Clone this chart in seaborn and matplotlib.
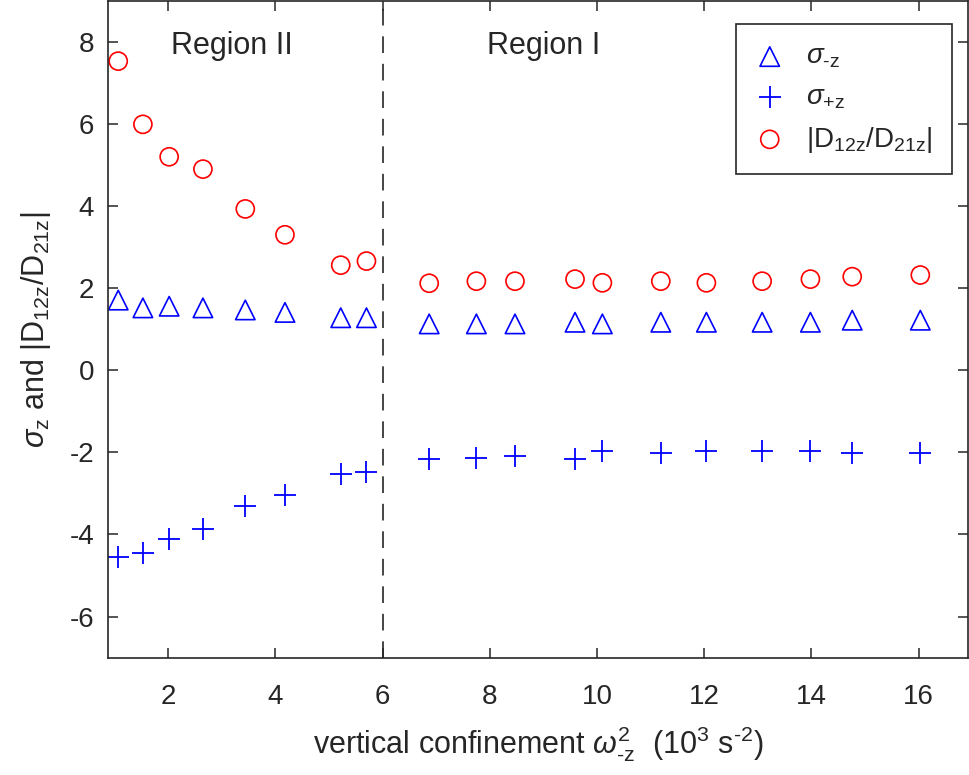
import numpy as np
import pandas as pd
import matplotlib
matplotlib.use("Agg")
import matplotlib.pyplot as plt
import seaborn as sb

sb.set_theme(style='ticks')
plt.rcParams['font.family'] = ['Liberation Sans', 'DejaVu Sans']
plt.rcParams['mathtext.fontset'] = 'custom'
plt.rcParams['mathtext.rm'] = 'Liberation Sans'
plt.rcParams['mathtext.it'] = 'Liberation Sans:italic'
plt.rcParams['axes.unicode_minus'] = False
plt.rcParams['text.color'] = '#262626'
plt.rcParams['axes.labelcolor'] = '#262626'
plt.rcParams['xtick.color'] = '#262626'
plt.rcParams['ytick.color'] = '#262626'

# vertical confinement omega^2 (10^3 s^-2)
omega2 = [1.07, 1.53, 2.02, 2.65, 3.44, 4.18, 5.22, 5.70,
          6.87, 7.75, 8.47, 9.59, 10.10, 11.19, 12.04, 13.08, 13.98, 14.76, 16.03]
sigma_minus = [1.71, 1.52, 1.56, 1.52, 1.47, 1.41, 1.28, 1.28,
               1.13, 1.13, 1.13, 1.17, 1.13, 1.17, 1.17, 1.17, 1.17, 1.22, 1.22]
sigma_plus = [-4.56, -4.44, -4.11, -3.87, -3.30, -3.05, -2.53, -2.47,
              -2.17, -2.13, -2.08, -2.15, -1.97, -2.02, -1.97, -1.97, -1.96, -2.01, -2.01]
d_ratio = [7.53, 5.99, 5.20, 4.90, 3.93, 3.30, 2.56, 2.66,
           2.12, 2.17, 2.17, 2.22, 2.13, 2.17, 2.13, 2.17, 2.22, 2.28, 2.32]

df = pd.DataFrame({'w2': omega2, 'sm': sigma_minus, 'sp': sigma_plus, 'd': d_ratio})

fig = plt.figure(figsize=(9.69, 7.75), dpi=100)
ax = fig.add_axes([0.1115, 0.1514, 0.8875, 0.8476])

sb.scatterplot(data=df, x='w2', y='sm', marker='^', s=14**2, facecolors='none',
               edgecolor='#0000ff', linewidth=1.2, label=r'$\sigma_{\text{-z}}$', ax=ax)
sb.scatterplot(data=df, x='w2', y='sp', marker='+', s=16**2, color='#0000ff',
               linewidth=1.3, label=r'$\sigma_{\text{+z}}$', ax=ax)
sb.scatterplot(data=df, x='w2', y='d', marker='o', s=13**2, facecolors='none',
               edgecolor='#ff0000', linewidth=1.2, label=r'|D$_{\rm 12z}$/D$_{\rm 21z}$|', ax=ax)

ax.axvline(6, color='#262626', lw=1.2, ls=(0, (10, 6.5)))

ax.text(3.19, 7.9, 'Region II', fontsize=22, ha='center', va='center')
ax.text(9.0, 7.9, 'Region I', fontsize=22, ha='center', va='center')

ax.set_xlim(0.88, 16.92)
ax.set_ylim(-7, 9)
ax.set_xticks(np.arange(2, 17, 2))
ax.set_yticks(np.arange(-6, 9, 2))
ax.tick_params(direction='in', length=7, width=1.1, labelsize=20, top=True, right=True)
ax.tick_params(axis='x', pad=19)
ax.tick_params(axis='y', pad=10)
for sp in ax.spines.values():
    sp.set_color('#262626')
    sp.set_linewidth(1.2)

ax.set_xlabel(r'vertical confinement $\omega^2_{\text{-z}}$  (10$^3$ s$^{\text{-2}}$)', fontsize=22, labelpad=10)
ax.set_ylabel(r'$\sigma_{\rm z}$ and |D$_{\rm 12z}$/D$_{\rm 21z}$|', fontsize=22, labelpad=12)

leg = ax.legend(loc='upper right', bbox_to_anchor=(0.981, 0.964), borderaxespad=0,
                fancybox=False, edgecolor='#262626', fontsize=20, framealpha=1,
                handlelength=1.0, handletextpad=0.8, borderpad=0.7, labelspacing=0.5)
leg.get_frame().set_linewidth(1.2)

fig.savefig('out.png', dpi=100)
